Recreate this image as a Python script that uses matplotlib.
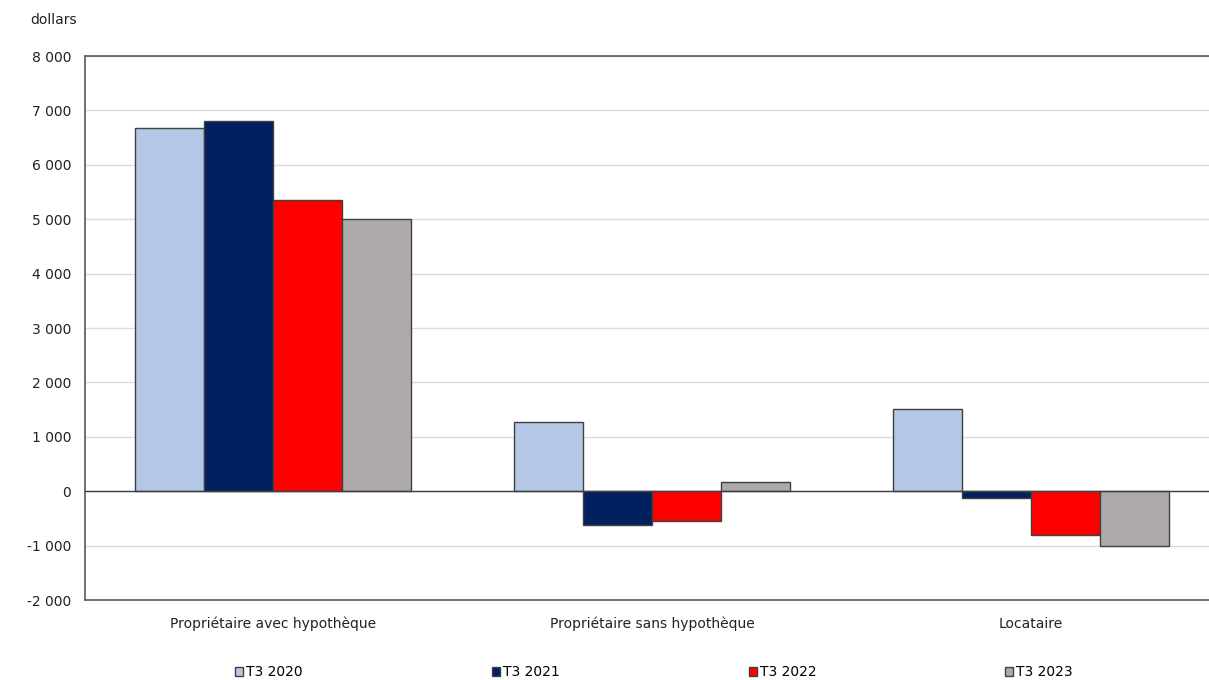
import matplotlib
matplotlib.use("Agg")
import matplotlib.pyplot as plt
import numpy as np

categories = ["Propriétaire avec hypothèque", "Propriétaire sans hypothèque", "Locataire"]
series_names = ["T3 2020", "T3 2021", "T3 2022", "T3 2023"]
t3_2020 = [6680, 1270, 1510]
t3_2021 = [6800, -625, -130]
t3_2022 = [5350, -550, -800]
t3_2023 = [5000, 165, -1010]
yticks = [-2000, -1000, 0, 1000, 2000, 3000, 4000, 5000, 6000, 7000, 8000]
ytick_labels = ["-2 000", "-1 000", "0", "1 000", "2 000", "3 000", "4 000",
                "5 000", "6 000", "7 000", "8 000"]

colors = ["#b4c7e7", "#002060", "#ff0000", "#aeaaaa"]
values = [t3_2020, t3_2021, t3_2022, t3_2023]

plt.rcParams['font.family'] = ['DejaVu Sans']
fig = plt.figure(figsize=(12.09, 6.8), dpi=100)
ax = fig.add_axes([85/1209, 1-600/680, 1-85/1209, (600-56)/680])

x = np.arange(len(categories))
bw = 0.182
for i, (name, vals, c) in enumerate(zip(series_names, values, colors)):
    ax.bar(x + (i - 1.5) * bw, vals, bw, color=c, edgecolor="#404040",
           linewidth=1.0, label=name, zorder=3)

ax.set_xlim(-0.496, 2.47)
ax.set_ylim(-2000, 8000)
ax.set_yticks(yticks)
ax.set_yticklabels(ytick_labels, fontsize=10, color="#222222")
ax.set_xticks(x)
ax.set_xticklabels(categories, fontsize=10, color="#222222")
ax.tick_params(axis='both', length=0)
ax.tick_params(axis='x', pad=12)
ax.tick_params(axis='y', pad=10)
ax.grid(axis='y', color="#dcdcdc", linewidth=1.0, zorder=0)
ax.axhline(0, color="#404040", linewidth=1.0, zorder=4)
for s in ["left", "top", "bottom"]:
    ax.spines[s].set_color("#595959")
    ax.spines[s].set_linewidth(1.2)
ax.spines["right"].set_visible(False)

fig.text(30/1209, 1-20/680, "dollars", fontsize=10, color="#222222", va="center")

fig.legend(loc="center", bbox_to_anchor=(654/1209, 1-672/680), ncol=4,
           frameon=False, fontsize=10, handlelength=0.6, handleheight=0.6,
           handletextpad=0.2, columnspacing=13.6)

fig.savefig("out.png", dpi=100, facecolor="white")
